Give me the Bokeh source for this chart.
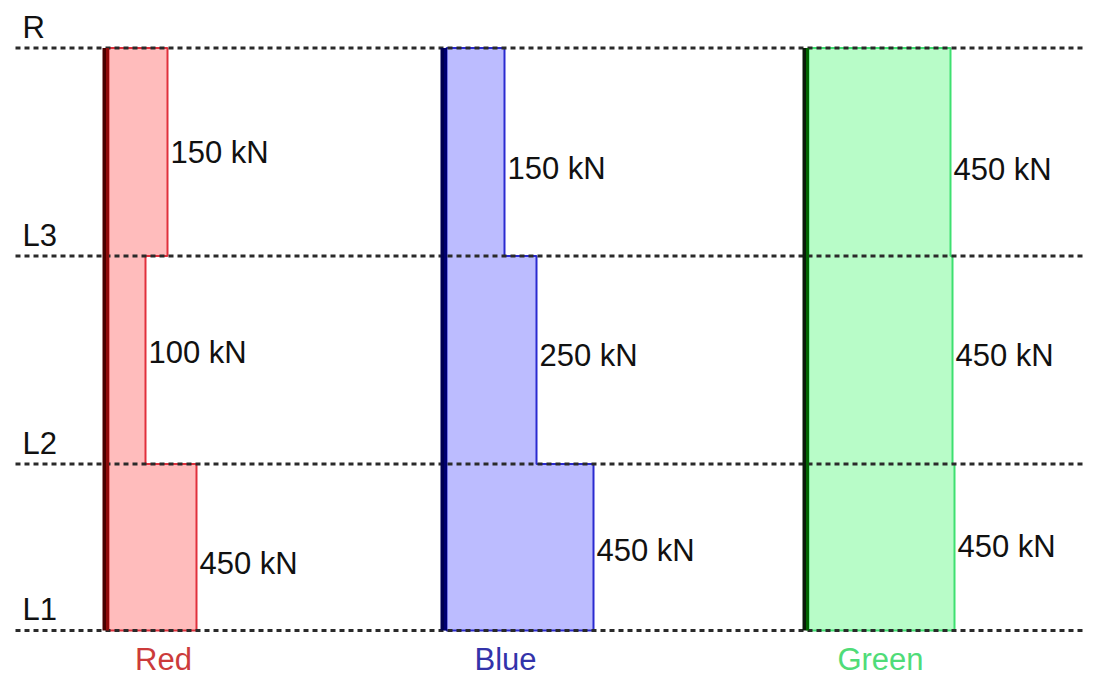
from bokeh.plotting import figure
from bokeh.models import Range1d, ColumnDataSource
from bokeh.embed import file_html
from bokeh.resources import INLINE
from bokeh.core.properties import value

# ---- data ----
levels = ["L1", "L2", "L3", "R"]
elevations = [0, 4, 9, 14]            # storey levels (drawing units)
columns = ["Red", "Blue", "Green"]
red_kN = [450, 100, 150]              # storey forces, bottom to top
blue_kN = [450, 250, 150]
green_kN = [450, 450, 450]
# drawn extent of each storey block (schematic, not to scale)
red_extent = [196, 145, 167]
blue_extent = [593, 536, 504]
green_extent = [954, 952, 950]

# ---- layout / style ----
W, H = 1086, 679
PX = 41.6                               # pixels per elevation unit
Y_L1 = 630                              # screen y of L1
x_lo, x_hi = 0, W
y_lo = (Y_L1 - H) / PX
y_hi = Y_L1 / PX

p = figure(width=W, height=H, output_backend="svg", toolbar_location=None,
           x_range=Range1d(x_lo, x_hi), y_range=Range1d(y_lo, y_hi),
           min_border=0, outline_line_color=None, background_fill_color="white",
           border_fill_color="white")
p.xaxis.visible = False
p.yaxis.visible = False
p.grid.visible = False

FONT = value("Liberation Sans")
FS = "31px"

styles = {
    "Red": dict(base=106, fill="#ffbcbc", line="#e0303c", base1="#4a0000", base2="#8f0a0a",
                label="#cc3b3b", label_x=163,
                label_y=[1.61, 6.68, 11.49]),
    "Blue": dict(base=444, fill="#bcbcff", line="#2a2ad0", base1="#000050", base2="#000070",
                 label="#3333aa", label_x=505,
                 label_y=[1.92, 6.61, 11.11]),
    "Green": dict(base=806, fill="#b8fcc8", line="#3ee070", base1="#0a1a0a", base2="#006400",
                  label="#4fdc78", label_x=880,
                  label_y=[2.02, 6.61, 11.08]),
}
forces = {"Red": red_kN, "Blue": blue_kN, "Green": green_kN}
extents = {"Red": red_extent, "Blue": blue_extent, "Green": green_extent}

for name in columns:
    st = styles[name]
    ext = extents[name]
    x0 = st["base"] + 2
    xs = [x0]
    ys = [elevations[0]]
    for i in range(3):
        xs += [ext[i], ext[i]]
        ys += [elevations[i], elevations[i + 1]]
    xs += [x0]
    ys += [elevations[-1]]
    p.patch(xs, ys, fill_color=st["fill"], line_color=st["line"], line_width=2)

# dotted level lines
p.segment(x0=[15] * 4, x1=[1100] * 4, y0=elevations, y1=elevations,
          line_color="#2a2a2a", line_width=3, line_dash="5 4")

for name in columns:
    st = styles[name]
    ext = extents[name]
    # thick base line
    p.segment(x0=[st["base"] - 2], x1=[st["base"] - 2], y0=[elevations[0]], y1=[elevations[-1]],
              line_color=st["base1"], line_width=4)
    p.segment(x0=[st["base"] + 1], x1=[st["base"] + 1], y0=[elevations[0]], y1=[elevations[-1]],
              line_color=st["base2"], line_width=3)
    # force labels
    src = ColumnDataSource(dict(x=[e + 3 for e in ext], y=st["label_y"],
                                t=[f"{v} kN" for v in forces[name]]))
    p.text(x="x", y="y", text="t", source=src, text_font=FONT, text_font_size=FS,
           text_color="#111111", text_baseline="middle", text_align="left")
    # column name
    p.text(x=[st["label_x"]], y=[(Y_L1 - 659) / PX], text=[name], text_font=FONT,
           text_font_size=FS, text_color=st["label"], text_baseline="middle", text_align="center")

# level labels (sit just above their dotted line)
p.text(x=[22] * 4, y=[e + 21 / PX for e in elevations], text=levels, text_font=FONT,
       text_font_size=FS, text_color="#111111", text_baseline="middle", text_align="left")

open("out.html", "w").write(file_html(p, INLINE))
